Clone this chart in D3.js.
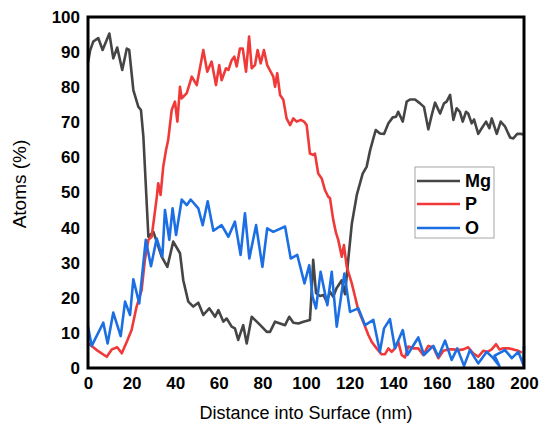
<!DOCTYPE html>
<html>
<head>
<meta charset="utf-8">
<script src="https://cdn.jsdelivr.net/npm/d3@7"></script>
<style>
  html, body { margin: 0; padding: 0; background: #fff; }
  svg { display: block; font-family: "Liberation Sans", Arial, sans-serif; }
</style>
</head>
<body>
<svg id="chart" width="543" height="434"></svg>
<script>
// Depth profile: atomic composition (%) vs distance into surface (nm)
const xTicks = [0, 20, 40, 60, 80, 100, 120, 140, 160, 180, 200];
const yTicks = [0, 10, 20, 30, 40, 50, 60, 70, 80, 90, 100];
const seriesNames = ["Mg", "P", "O"];
const seriesColors = ["#454545", "#f03a3a", "#1c6fe3"];

const mgData = [
  [0,87],[1,90.5],[2.4,93],[4.7,94],[6.7,90.6],[9.8,95.3],[11.6,88.2],[13.4,91.3],[15.7,84.9],
  [17.8,91],[18.9,90.6],[20.8,79.2],[23.1,74.4],[24.3,73.5],[25.4,65.9],[27.7,37.4],[30,38.8],
  [33.8,31.7],[36.4,28.8],[39.1,36],[42.2,32.7],[43.7,25],[46,18.9],[48.3,17.5],[50.6,18.6],
  [52.9,15.1],[55.6,17],[58.3,14.6],[59.8,16.5],[62.1,13.2],[63.6,14.1],[65.9,11.8],[67.4,11.3],
  [68.9,8],[71.2,12.2],[72.8,7],[75.1,14.6],[77.4,13.2],[79.7,11.8],[82,10.3],[83.5,10.3],
  [85.8,13.2],[88.1,12.7],[90.4,12.2],[92.3,14.6],[94.2,12.9],[96.5,12.7],[98.8,13.2],[101.8,13.7],
  [102.6,22],[103.3,30.8],[104.6,21.3],[106.5,20.5],[108,20.8],[109.5,18.9],[111,21.7],[112.5,20.3],
  [114,22.7],[116.4,25],[117.9,21],[119.4,31],[121,41],[123.3,49.3],[126,55.4],[127.8,57.3],
  [129.4,62],[130.9,65.4],[132,67.8],[133.9,66.8],[135.8,66.7],[137.8,69.7],[139.8,71.4],[141.3,71.6],
  [142.3,73],[144.4,70.2],[146.2,75.9],[147.7,76.5],[150,76.5],[152.3,75.4],[154.1,74.4],[156.1,68],
  [157.7,72.1],[159.2,75.6],[161.5,72.5],[163.3,75.4],[164.5,75.9],[166.1,77.8],[167.6,70.7],
  [169.1,74],[170.6,73],[171.9,70.2],[173.4,73],[174.4,72.5],[176,69.7],[177.1,70.8],[179,66.7],
  [180.6,68.3],[182.6,70.2],[184.1,68.3],[185.2,71.1],[187.5,66.7],[189.3,70.2],[191.3,68.8],
  [193.6,65.7],[195.1,65.4],[196.9,66.7],[198.5,66.7],[200,66.5]
];

const pData = [
  [0,7],[1.7,6.3],[4,5.1],[8.6,3.2],[10.9,5.3],[13.4,5.9],[15.5,4.2],[17.8,7.5],[20,10.8],
  [22.3,17.5],[24.6,22.2],[26.1,30.8],[27.7,36.5],[29.2,37.4],[31.5,48.4],[32.2,52.6],[33.3,49.3],
  [34.5,57.3],[35.8,62.1],[36.8,65],[38.4,73.5],[39.9,75.9],[41,70.2],[42.2,80.1],[43,76.8],
  [45.3,78.3],[47.6,83],[49.9,80.6],[52.9,90.6],[54.7,84.4],[56.7,87.3],[58.7,80.6],[60.2,86.3],
  [61.3,82],[63.3,85.4],[64.4,84.9],[65.9,87.7],[67.1,88.7],[68.2,85.9],[69.7,91],[71,91],
  [72.5,84.4],[73.9,94.4],[75.1,85.4],[76.6,86.3],[77.8,90.6],[79.2,86.8],[80.7,90.6],[82.2,86.3],
  [83.8,84.4],[85,83],[85.8,80.1],[86.8,84],[88.1,77.8],[89.6,76.4],[91.1,71.1],[92.7,69.2],
  [94.2,71.1],[95.7,70.2],[97.6,70.7],[99.1,70.2],[100.3,69.2],[101.1,65],[101.8,61.1],[103.3,60.7],
  [104.1,61.1],[105.6,55.4],[107.2,54],[108.7,50.7],[110.2,48.8],[111,48.4],[112.5,42.2],[113.8,38.4],
  [114.8,36.5],[116.4,31.7],[117.4,35],[118.7,28.8],[121,24.1],[122.5,20.3],[124,16.5],[125.6,14.1],
  [127.1,11.8],[128.6,9.4],[130.1,7.5],[132.4,5.6],[134.7,3.9],[136.2,3.9],[137.8,5.6],[139.3,4.6],
  [140.8,5.6],[142.3,7.5],[143.9,3.7],[145.4,3],[146.9,6.1],[149.2,5.6],[151.5,5.6],[153.8,3.7],
  [156.1,6.3],[158.4,5.9],[160.7,2.8],[163,4.9],[165.3,5.3],[167.6,5.3],[169.9,5.1],[172.2,5.3],
  [174.4,5.9],[176.7,4.2],[179,3.2],[181.3,4.9],[183.2,4.6],[185.2,5.3],[187.2,6.8],[188.7,5.3],
  [190.5,5.6],[192.8,5.6],[195.1,5.3],[197.4,4.9],[199,4.4]
];

const oData = [
  [0,11.8],[1.7,6.3],[7,12.9],[9,7],[11.6,15.8],[15,9.1],[17,18.9],[19.3,15.1],[20.8,25.3],
  [23.5,18.4],[26.5,36.5],[28.9,29],[31.5,36.9],[34.1,31.7],[35.3,45],[37.3,36.5],[38.8,45.5],
  [40.4,37.9],[43,48],[45.3,46.4],[47.1,48],[50.6,45.5],[52.6,40.7],[54.9,47.5],[57.5,39.1],
  [61.3,40.7],[64.4,37.4],[67.4,41.7],[70,32.2],[72,44.1],[74,31.2],[77.1,40.7],[80,28.8],
  [82.2,39.8],[85,38.8],[90.4,40.3],[93,31.2],[96,32.2],[99.3,24.1],[101.5,29.3],[103,20.3],
  [104.6,17],[106.7,27.4],[109.8,17.9],[111.8,27.4],[114.1,11.8],[117.6,26.9],[120.2,16],[124,17],
  [127.1,12.2],[130.9,13.7],[133.9,4.6],[135.8,11.3],[138.5,13.9],[140.8,5.6],[144.4,10.8],
  [146.5,3.7],[151.5,8.7],[154.1,3.7],[158.4,6.3],[160.7,3.2],[163.8,7.8],[166.8,2.3],[169.4,5.6],
  [172.5,0.6],[175.2,5.1],[179,1.3],[182.9,4.6],[185.9,2.8],[188.7,0.6],[186.5,3.5],[191.3,5.1],
  [194.4,2.8],[197.4,4.6],[199.7,0.9],[200,6.3]
];

const seriesData = [mgData, pData, oData];

const svg = d3.select("#chart");
const plot = { left: 88, right: 524, top: 17, bottom: 368 };

const x = d3.scaleLinear().domain([0, 200]).range([plot.left, plot.right]);
const y = d3.scaleLinear().domain([0, 100]).range([plot.bottom, plot.top]);

// Series lines
const line = d3.line().x(d => x(d[0])).y(d => y(d[1]));
seriesData.forEach((data, i) => {
  svg.append("path")
    .datum(data)
    .attr("fill", "none")
    .attr("stroke", seriesColors[i])
    .attr("stroke-width", 2.6)
    .attr("stroke-linejoin", "round")
    .attr("d", line);
});

// Plot frame
svg.append("rect")
  .attr("x", plot.left).attr("y", plot.top)
  .attr("width", plot.right - plot.left).attr("height", plot.bottom - plot.top)
  .attr("fill", "none").attr("stroke", "#000").attr("stroke-width", 3);

// Axes (labels only, no tick marks)
const xAxis = d3.axisBottom(x).tickValues(xTicks).tickSize(0).tickPadding(9);
const yAxis = d3.axisLeft(y).tickValues(yTicks).tickSize(0).tickPadding(8);

const gx = svg.append("g").attr("transform", `translate(0,${plot.bottom})`).call(xAxis);
const gy = svg.append("g").attr("transform", `translate(${plot.left},0)`).call(yAxis);
[gx, gy].forEach(g => {
  g.select(".domain").remove();
  g.selectAll("text")
    .attr("font-family", "'Liberation Sans', Arial, sans-serif")
    .attr("font-size", 17).attr("font-weight", "bold").attr("fill", "#000");
});

// Axis titles
svg.append("text")
  .attr("x", (plot.left + plot.right) / 2).attr("y", 419)
  .attr("text-anchor", "middle")
  .attr("font-size", 18).attr("fill", "#000")
  .text("Distance into Surface (nm)");

svg.append("text")
  .attr("transform", "translate(26,184) rotate(-90)")
  .attr("text-anchor", "middle")
  .attr("font-size", 19).attr("fill", "#000")
  .text("Atoms (%)");

// Legend
const legend = svg.append("g");
legend.append("rect")
  .attr("x", 415).attr("y", 167).attr("width", 79).attr("height", 71)
  .attr("fill", "#fff").attr("stroke", "#a6a6a6").attr("stroke-width", 1);
const legendY = [181, 204, 228];
seriesNames.forEach((name, i) => {
  legend.append("line")
    .attr("x1", 417).attr("x2", 460)
    .attr("y1", legendY[i]).attr("y2", legendY[i])
    .attr("stroke", seriesColors[i]).attr("stroke-width", 2.6);
  legend.append("text")
    .attr("x", 465).attr("y", legendY[i])
    .attr("dy", "0.35em")
    .attr("font-size", 18).attr("font-weight", "bold").attr("fill", "#000")
    .text(name);
});
</script>
</body>
</html>
